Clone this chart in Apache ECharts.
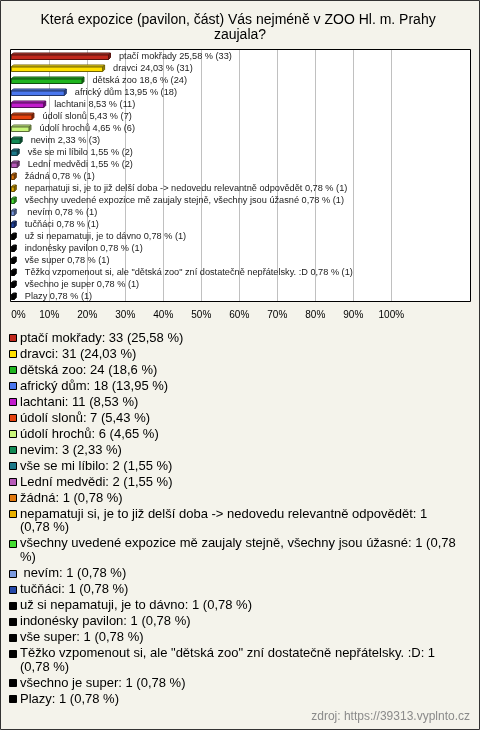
<!DOCTYPE html>
<html><head><meta charset="utf-8">
<script src="https://cdn.jsdelivr.net/npm/echarts@6/dist/echarts.min.js"></script>
<style>html,body{margin:0;padding:0;background:#f4f3eb;}#c{width:480px;height:730px;}</style>
</head><body><div id="c"></div>
<script>
var titleText = 'Která expozice (pavilon, část) Vás nejméně v ZOO Hl. m. Prahy zaujala?';
var categories = [
  'ptačí mokřady', 'dravci', 'dětská zoo', 'africký dům', 'lachtani', 'údolí slonů', 'údolí hrochů',
  'nevim', 'vše se mi líbilo', 'Lední medvědi', 'žádná',
  'nepamatuji si, je to již delší doba -> nedovedu relevantně odpovědět',
  'všechny uvedené expozice mě zaujaly stejně, všechny jsou úžasné',
  ' nevím', 'tučňáci', 'už si nepamatuji, je to dávno', 'indonésky pavilon', 'vše super',
  'Těžko vzpomenout si, ale "dětská zoo" zní dostatečně nepřátelsky. :D',
  'všechno je super', 'Plazy'
];
var percents = [25.58, 24.03, 18.6, 13.95, 8.53, 5.43, 4.65, 2.33, 1.55, 1.55, 0.78,
  0.78, 0.78, 0.78, 0.78, 0.78, 0.78, 0.78, 0.78, 0.78, 0.78];
var counts = [33, 31, 24, 18, 11, 7, 6, 3, 2, 2, 1, 1, 1, 1, 1, 1, 1, 1, 1, 1, 1];
var colors = ['#c0281c', '#ffe000', '#1fb51f', '#4a77ee', '#c21ccc', '#e5420e', '#c8f57a',
  '#118a55', '#1c7a8a', '#b65ab8', '#e0780e', '#e8b000', '#44dd33', '#7a9ae0', '#2448a8',
  '#000000', '#000000', '#000000', '#000000', '#000000', '#000000'];
var xTicks = [0, 10, 20, 30, 40, 50, 60, 70, 80, 90, 100];
var sourceText = 'zdroj: https://39313.vyplnto.cz';

var FONT = '"Liberation Sans", Arial, sans-serif';
function fmt(v) { return String(v).replace('.', ','); }
function shade(hex, f) {
  var n = parseInt(hex.slice(1), 16);
  var r = (n >> 16) & 255, g = (n >> 8) & 255, b = n & 255;
  if (f < 1) { r *= f; g *= f; b *= f; }
  else { r = r + (255 - r) * (f - 1); g = g + (255 - g) * (f - 1); b = b + (255 - b) * (f - 1); }
  return 'rgb(' + Math.round(r) + ',' + Math.round(g) + ',' + Math.round(b) + ')';
}

var chart = echarts.init(document.getElementById('c'), null, {renderer: 'canvas'});

// legend built as graphic items (wrapped lines)
var ctx = document.createElement('canvas').getContext('2d');
ctx.font = '13px ' + FONT;
function wrap(text, maxW) {
  var words = text.split(' '), lines = [], cur = '';
  for (var i = 0; i < words.length; i++) {
    var test = i === 0 ? words[i] : cur + ' ' + words[i];
    if (ctx.measureText(test).width > maxW && cur.trim() !== '') { lines.push(cur); cur = words[i]; }
    else cur = test;
  }
  lines.push(cur);
  return lines;
}
var LH = 13.7, GAP = 2.3;
var legendGraphics = [];
var y = 331.3;
for (var i = 0; i < categories.length; i++) {
  var txt = categories[i] + ': ' + counts[i] + ' (' + fmt(percents[i]) + ' %)';
  var lines = wrap(txt, 438);
  var cy = y + LH / 2;
  legendGraphics.push({
    type: 'rect', shape: {x: 9.5, y: Math.round(cy - 4) + 0.5, width: 7, height: 7},
    style: {fill: colors[i], stroke: '#000', lineWidth: 1}
  });
  legendGraphics.push({
    type: 'text', x: 20, y: y,
    style: {text: lines.join('\n'), font: '13px ' + FONT, fill: '#000', lineHeight: LH, verticalAlign: 'top', align: 'left'}
  });
  y += lines.length * LH + GAP;
}

var option = {
  backgroundColor: '#f4f3eb',
  animation: false,
  title: {
    text: titleText, left: 'center', top: 13, padding: 0,
    textStyle: {fontSize: 14, fontWeight: 'normal', color: '#000', fontFamily: FONT, width: 440, overflow: 'break', lineHeight: 15}
  },
  grid: {left: 11.3, width: 380, top: 50, height: 252, containLabel: false, show: true, backgroundColor: '#ffffff', borderWidth: 0},
  xAxis: {
    type: 'value', min: xTicks[0], max: xTicks[xTicks.length - 1], interval: xTicks[1] - xTicks[0],
    axisLine: {show: false}, axisTick: {show: false},
    splitLine: {show: true, showMinLine: false, lineStyle: {color: '#c0c0c0', width: 1}},
    axisLabel: {formatter: '{value}%', fontSize: 10, color: '#000', fontFamily: FONT, margin: 8, alignMinLabel: 'left'}
  },
  yAxis: {
    type: 'category', data: categories, inverse: true,
    axisLine: {show: false}, axisTick: {show: false}, axisLabel: {show: false}, splitLine: {show: false}
  },
  graphic: [
    {type: 'rect', z: -10, shape: {x: 391.3, y: 49.5, width: 79.2, height: 252}, style: {fill: '#ffffff', stroke: null}},
    {type: 'rect', z: 100, shape: {x: 10.5, y: 49.5, width: 460, height: 252}, style: {fill: null, stroke: '#000', lineWidth: 1}},
    {type: 'rect', z: 100, shape: {x: 0.5, y: 0.5, width: 479, height: 729}, style: {fill: null, stroke: '#333', lineWidth: 1}},
    {type: 'text', z: 100, x: 470, y: 717, style: {text: sourceText, font: '12px ' + FONT, fill: '#8a8a8a', align: 'right', verticalAlign: 'middle'}}
  ].concat(legendGraphics),
  series: [{
    type: 'custom',
    clip: false,
    encode: {x: 0, y: 1},
    data: percents.map(function (v, i) { return [v, i]; }),
    renderItem: function (params, api) {
      var i = params.dataIndex;
      var v = api.value(0), idx = api.value(1);
      var p0 = api.coord([0, idx]), p1 = api.coord([v, idx]);
      var x0 = p0[0], x1 = p1[0], yc = p0[1];
      var d = 2, top = yc - 1, bot = yc + 3.5;
      var c = colors[i];
      var stroke = shade(c, 0.45);
      if (c === '#000000') stroke = '#000';
      var label = categories[i] + ' ' + fmt(percents[i]) + ' % (' + counts[i] + ')';
      return {
        type: 'group',
        children: [
          {type: 'polygon', shape: {points: [[x0, top], [x0 + d, top - d], [x1 + d, top - d], [x1, top]]},
            style: {fill: shade(c, 1.15), stroke: stroke, lineWidth: 1}},
          {type: 'polygon', shape: {points: [[x1, top], [x1 + d, top - d], [x1 + d, bot - d], [x1, bot]]},
            style: {fill: shade(c, 0.6), stroke: stroke, lineWidth: 1}},
          {type: 'rect', shape: {x: x0, y: top, width: x1 - x0, height: bot - top},
            style: {fill: c, stroke: stroke, lineWidth: 1}},
          {type: 'text', x: x1 + 10.5, y: yc,
            style: {text: label, font: '9.2px ' + FONT, fill: '#222', verticalAlign: 'middle', align: 'left'}}
        ]
      };
    }
  }]
};
chart.setOption(option);
</script></body></html>
